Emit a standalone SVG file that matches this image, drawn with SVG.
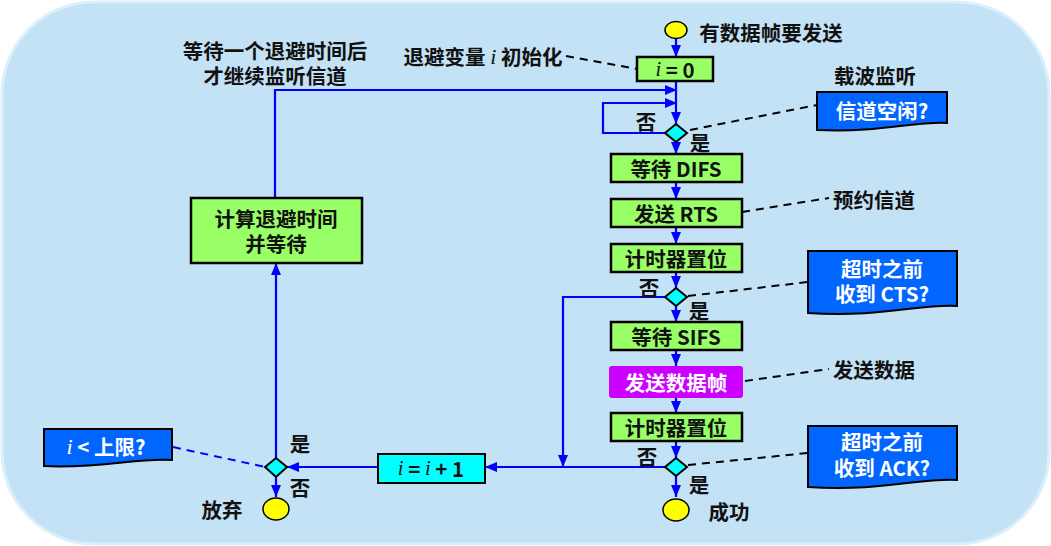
<svg xmlns="http://www.w3.org/2000/svg" width="1051" height="546" viewBox="0 0 1051 546">
<defs>
<marker id="ah" viewBox="0 0 12 10" refX="12" refY="5" markerWidth="12" markerHeight="10" markerUnits="userSpaceOnUse" orient="auto">
<path d="M0,0 L12,5 L0,10 Z" fill="#0000ff"/>
</marker>
<style>
.t{font-family:"Noto Sans CJK SC","Liberation Sans",sans-serif;font-weight:bold;font-size:20.5px;fill:#111;text-anchor:middle;dominant-baseline:central}
.w{fill:#fff}
.it{font-family:"Liberation Serif",serif;font-style:italic;font-weight:normal}
.box{fill:#99ff66;stroke:#000;stroke-width:2.5}
.cy{fill:#00ffff;stroke:#000;stroke-width:2}
.dia{fill:#00ffff;stroke:#000;stroke-width:2}
.ell{fill:#ffff00;stroke:#000;stroke-width:1.5}
.arr{fill:none;stroke:#0000ff;stroke-width:2.2;marker-end:url(#ah)}
.da{fill:none;stroke:#000;stroke-width:2;stroke-dasharray:8 6}
.dab{fill:none;stroke:#0000ff;stroke-width:2;stroke-dasharray:8 6}
.doc{fill:#0066ff;stroke:#000;stroke-width:2}
</style>
</defs>
<rect x="2" y="2" width="1047" height="542" rx="92" ry="92" fill="#c4e2f6" stroke="#dcf0fc" stroke-width="3"/>

<g id="connectors">
<path class="arr" d="M676,39 V57"/>
<path class="arr" d="M676,81 V124"/>
<path class="arr" d="M275,198 V90 H677"/>
<path class="arr" d="M666,133 H603 V103 H677"/>
<path class="arr" d="M676,142 V154"/>
<path class="arr" d="M676,182 V199"/>
<path class="arr" d="M676,227 V244"/>
<path class="arr" d="M676,272 V288"/>
<path class="arr" d="M676,306 V322"/>
<path class="arr" d="M676,350 V366"/>
<path class="arr" d="M676,398 V413"/>
<path class="arr" d="M676,441 V458"/>
<path class="arr" d="M676,476 V497"/>
<path class="arr" d="M666,297 H563 V467"/>
<path class="arr" d="M666,467 H485"/>
<path class="arr" d="M378,467 H287"/>
<path class="arr" d="M276,458 V263"/>
<path class="arr" d="M276,477 V497"/>
<path class="da" d="M566,56 L637,69"/>
<path class="da" d="M690,130 L817,105"/>
<path class="da" d="M742,212 L829,198"/>
<path class="da" d="M688,296 L808,282"/>
<path class="da" d="M745,381 L829,369"/>
<path class="da" d="M688,465 L808,453"/>
<path class="dab" d="M173,447 L265,467"/>
</g>

<g id="start">
<ellipse class="ell" cx="676" cy="30" rx="11" ry="8.5"/>
<text class="t" x="771" y="32">有数据帧要发送</text>
</g>
<g id="init">
<rect class="box" x="637" y="57" width="76" height="24"/>
<text class="t" x="675" y="69" font-size="22"><tspan class="it">i</tspan> = 0</text>
</g>
<g id="init-label">
<text class="t" x="483" y="56">退避变量 <tspan class="it" font-size="22">i</tspan> 初始化</text>
</g>
<g id="wait-label">
<text class="t" x="275" y="50">等待一个退避时间后<tspan x="275" dy="25">才继续监听信道</tspan></text>
</g>
<g id="d1">
<path class="dia" d="M676,124 L687,133 L676,142 L665,133 Z"/>
<text class="t" x="646" y="121">否</text>
<text class="t" x="700" y="142">是</text>
</g>
<g id="c1">
<text class="t" x="875" y="75">载波监听</text>
<path class="doc" d="M817,92 H947 V123 C915,121 880,133 817,130 Z"/>
<text class="t w" x="882" y="110">信道空闲?</text>
</g>
<g id="difs">
<rect class="box" x="611" y="154" width="131" height="28"/>
<text class="t" x="676" y="168">等待 DIFS</text>
</g>
<g id="rts">
<rect class="box" x="611" y="199" width="131" height="28"/>
<text class="t" x="676" y="213">发送 RTS</text>
</g>
<g id="rts-label">
<text class="t" x="874" y="199">预约信道</text>
</g>
<g id="timer1">
<rect class="box" x="611" y="244" width="131" height="28"/>
<text class="t" x="676" y="258">计时器置位</text>
</g>
<g id="d2">
<path class="dia" d="M676,288 L687,297 L676,306 L665,297 Z"/>
<text class="t" x="649" y="287">否</text>
<text class="t" x="699" y="310">是</text>
</g>
<g id="c2">
<path class="doc" d="M808,251 H957 V306 C925,303 880,318 808,313 Z"/>
<text class="t w" x="882" y="268">超时之前<tspan x="882" dy="25">收到 CTS?</tspan></text>
</g>
<g id="sifs">
<rect class="box" x="611" y="322" width="131" height="28"/>
<text class="t" x="676" y="336">等待 SIFS</text>
</g>
<g id="data">
<rect x="609" y="366" width="134" height="32" rx="3" fill="#cc00ff"/>
<text class="t w" x="676" y="382">发送数据帧</text>
</g>
<g id="data-label">
<text class="t" x="874" y="369">发送数据</text>
</g>
<g id="timer2">
<rect class="box" x="611" y="413" width="131" height="28"/>
<text class="t" x="676" y="427">计时器置位</text>
</g>
<g id="d3">
<path class="dia" d="M676,458 L687,467 L676,476 L665,467 Z"/>
<text class="t" x="647" y="456">否</text>
<text class="t" x="699" y="484">是</text>
</g>
<g id="c3">
<path class="doc" d="M808,426 H957 V480 C925,477 880,492 808,487 Z"/>
<text class="t w" x="882" y="441">超时之前<tspan x="882" dy="26">收到 ACK?</tspan></text>
</g>
<g id="success">
<ellipse class="ell" cx="676" cy="510" rx="13" ry="11"/>
<text class="t" x="729" y="511">成功</text>
</g>
<g id="inc">
<rect class="cy" x="378" y="454" width="107" height="29"/>
<text class="t" x="431" y="468" font-size="23"><tspan class="it">i</tspan> = <tspan class="it">i</tspan> + 1</text>
</g>
<g id="d4">
<path class="dia" d="M276,458 L287,467 L276,477 L265,467 Z"/>
<text class="t" x="300" y="443">是</text>
<text class="t" x="300" y="487">否</text>
</g>
<g id="c4">
<path class="doc" d="M44,429 H172 V460 C140,457 100,469 44,466 Z"/>
<text class="t w" x="106" y="446"><tspan class="it" font-size="22">i</tspan> &lt; 上限?</text>
</g>
<g id="giveup">
<ellipse class="ell" cx="276" cy="509" rx="13" ry="11"/>
<text class="t" x="222" y="509">放弃</text>
</g>
<g id="backoff">
<rect class="box" x="191" y="198" width="171" height="65"/>
<text class="t" x="276" y="218">计算退避时间<tspan x="276" dy="25">并等待</tspan></text>
</g>
</svg>
